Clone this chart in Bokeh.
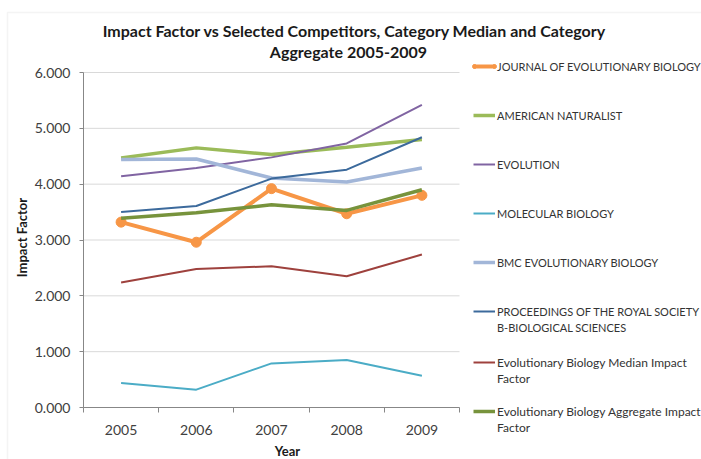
import math
from bokeh.plotting import figure
from bokeh.models import (Range1d, FixedTicker, NumeralTickFormatter, Legend, LegendItem,
                          Label, BoxAnnotation)
from bokeh.embed import file_html
from bokeh.resources import INLINE

# ---- data ----
years = [2005, 2006, 2007, 2008, 2009]
jeb = [3.32, 2.96, 3.92, 3.47, 3.80]
amnat = [4.47, 4.65, 4.53, 4.66, 4.80]
evolution = [4.14, 4.29, 4.48, 4.73, 5.42]
molbio = [0.44, 0.32, 0.79, 0.85, 0.57]
bmc = [4.44, 4.45, 4.11, 4.04, 4.29]
procb = [3.50, 3.61, 4.10, 4.26, 4.84]
median = [2.24, 2.48, 2.53, 2.35, 2.74]
aggregate = [3.39, 3.49, 3.63, 3.53, 3.90]
y_ticks = [0, 1, 2, 3, 4, 5, 6]

title_1 = "Impact Factor vs Selected Competitors, Category Median and Category"
title_2 = "Aggregate 2005-2009"

FONT = "Lato"

# ---- layout (canvas pixels) ----
W, H = 701, 459
PL, PR, PT, PB = 83, 459, 72, 407          # plot area edges
x_lo, x_hi = years[0] - 0.5, years[-1] + 0.5
y_lo, y_hi = y_ticks[0], y_ticks[-1]
kx = (PR - PL) / (x_hi - x_lo)              # px per data unit
ky = (PB - PT) / (y_hi - y_lo)

# the frame covers the whole canvas, so nothing is clipped
p = figure(width=W, height=H, output_backend="svg", toolbar_location=None,
           x_range=Range1d(x_lo - PL / kx, x_lo + (W - PL) / kx),
           y_range=Range1d(y_lo - (H - PB) / ky, y_hi + PT / ky),
           min_border=0)
p.outline_line_color = None
p.xgrid.visible = False
p.ygrid.visible = False

def X(px):
    return x_lo + (px - PL) / kx
def Y(py):
    return y_hi - (py - PT) / ky

# chart-area border
p.add_layout(BoxAnnotation(left=X(7), right=X(760), top=Y(12), bottom=Y(520),
                           fill_alpha=0, line_color="#D9D9D9", line_width=1.5))

# gridlines limited to the plot area
p.segment(x0=x_lo, x1=x_hi, y0=y_ticks, y1=y_ticks, line_color="#D9D9D9", line_width=1)

# axes at fixed positions
xa = p.xaxis[0]
xa.fixed_location = y_lo
xa.bounds = (x_lo, x_hi)
xa.ticker = FixedTicker(ticks=years, minor_ticks=[y - 0.5 for y in years] + [x_hi])
xa.major_tick_line_color = None
xa.major_tick_out = 5
xa.major_tick_in = 0
xa.minor_tick_line_color = "#878787"
xa.minor_tick_out = 5
xa.minor_tick_in = 0
xa.major_label_standoff = 12

ya = p.yaxis[0]
ya.fixed_location = x_lo
ya.bounds = (y_lo, y_hi)
ya.ticker = FixedTicker(ticks=y_ticks, minor_ticks=[])
ya.formatter = NumeralTickFormatter(format="0.000")
ya.major_tick_line_color = "#878787"
ya.major_tick_out = 4
ya.major_tick_in = 0
ya.major_label_standoff = 9

for ax in (xa, ya):
    ax.axis_line_color = "#878787"
    ax.major_label_text_font = FONT
    ax.major_label_text_font_size = "14px"
    ax.major_label_text_color = "#404040"

# series
series = [
    ("JOURNAL OF EVOLUTIONARY BIOLOGY", jeb, "#F79646", 4),
    ("AMERICAN NATURALIST", amnat, "#9BBB59", 3.5),
    ("EVOLUTION", evolution, "#8064A2", 2),
    ("MOLECULAR BIOLOGY", molbio, "#4BACC6", 2),
    ("BMC EVOLUTIONARY BIOLOGY", bmc, "#A2B6D8", 3.5),
    ("PROCEEDINGS OF THE ROYAL SOCIETY", procb, "#3C6A9C", 2),
    ("Evolutionary Biology Median Impact", median, "#9E413D", 2),
    ("Evolutionary Biology Aggregate Impact", aggregate, "#77933C", 3.5),
]
renderers = {}
markers = None
for name, vals, col, lw in series:
    r = p.line(years, vals, line_color=col, line_width=lw)
    renderers[name] = [r]
    if name.startswith("JOURNAL"):
        markers = p.scatter(years, vals, size=10, fill_color=col, line_color=col, marker="circle")

dummy = p.line(x=[], y=[], line_alpha=0)
names = [s[0] for s in series]

ROW = 16
def make_legend(items, top_py, spacing, left=473, gw=22, size="11px"):
    n = len(items)
    bottom_py = top_py + n * ROW + (n - 1) * spacing
    lg = Legend(items=items, location=(left, H - bottom_py),
                label_height=ROW, glyph_height=ROW, glyph_width=gw, spacing=spacing,
                label_standoff=2, padding=0, margin=0,
                border_line_alpha=0, background_fill_alpha=0,
                label_text_font=FONT, label_text_font_size=size,
                label_text_color="#333333")
    p.add_layout(lg)

make_legend([LegendItem(label=n, renderers=renderers[n]) for n in names[:5]], 58, 33)
# the two end markers of the first legend sample
make_legend([LegendItem(label=" ", renderers=[markers])], 58, 0, left=469, gw=10)
make_legend([LegendItem(label=" ", renderers=[markers])], 58, 0, left=489, gw=10)
make_legend([LegendItem(label=names[5], renderers=renderers[names[5]]),
             LegendItem(label="B-BIOLOGICAL SCIENCES", renderers=[dummy])], 303, 0)
make_legend([LegendItem(label=names[6], renderers=renderers[names[6]]),
             LegendItem(label="Factor", renderers=[dummy])], 354, 0, size="12px")
make_legend([LegendItem(label=names[7], renderers=renderers[names[7]]),
             LegendItem(label="Factor", renderers=[dummy])], 403, 0, size="12px")

# titles
def lab(**kw):
    base = dict(text_font=FONT, text_color="#1a1a1a", text_font_style="bold",
                text_align="center", text_baseline="middle")
    base.update(kw)
    return Label(**base)

p.add_layout(lab(x=X(354), y=Y(30), text=title_1, text_font_size="16px"))
p.add_layout(lab(x=X(348), y=Y(51), text=title_2, text_font_size="16px"))
p.add_layout(lab(x=X(21), y=Y(237), text="Impact Factor", angle=math.pi / 2, text_font_size="13px"))
p.add_layout(lab(x=X(287), y=Y(450), text="Year", text_font_size="13px"))

open("out.html", "w").write(file_html(p, INLINE))
